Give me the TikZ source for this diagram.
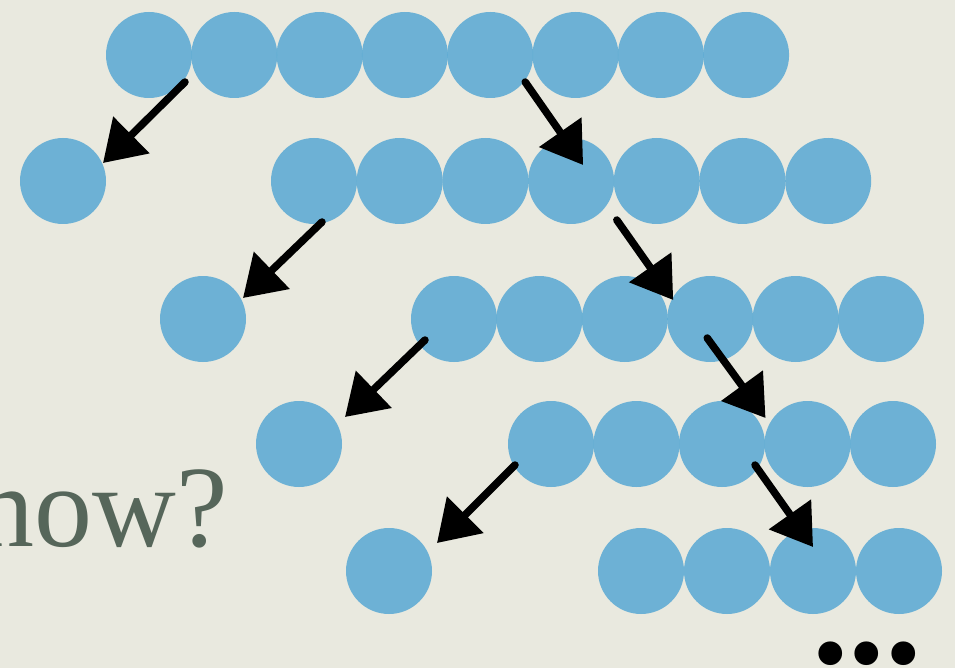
\documentclass[tikz,border=0pt]{standalone}
\usepackage{fontspec}
\setmainfont{Liberation Serif}
\usetikzlibrary{arrows.meta,calc}
\definecolor{bgcol}{RGB}{233,233,223}
\definecolor{ballblue}{RGB}{96,172,212}
\definecolor{textcol}{RGB}{86,102,90}
\tikzset{
  ball/.style={circle, minimum size=86pt, inner sep=0pt, fill=ballblue, fill opacity=0.9, draw=none},
  sketch/.style={line width=7.5pt, line cap=round, draw=black, -{Triangle[length=40pt,width=50pt]}},
}
\begin{document}
\begin{tikzpicture}[x=1pt,y=-1pt]
\useasboundingbox (0,0) rectangle (955,668);
\clip (0,0) rectangle (955,668);
\fill[bgcol] (0,0) rectangle (955,668);
% row 1
\foreach \i in {0,...,7} \node[ball] (r1c\i) at ({149+85.3*\i},55) {};
% row 2
\node[ball] (s2) at (63,181) {};
\foreach \i in {0,...,6} \node[ball] (r2c\i) at ({314+85.7*\i},181) {};
% row 3
\node[ball] (s3) at (203,319) {};
\foreach \i in {0,...,5} \node[ball] (r3c\i) at ({454+85.4*\i},319) {};
% row 4
\node[ball] (s4) at (299,444) {};
\foreach \i in {0,...,4} \node[ball] (r4c\i) at ({551+85.5*\i},444) {};
% row 5
\node[ball] (s5) at (389,571) {};
\foreach \i in {0,...,3} \node[ball] (r5c\i) at ({641+86*\i},571) {};
% arrows
\draw[sketch] ($(r1c0)+(36,27)$) -- ($(s2)+(40,-18)$);
\draw[sketch] ($(r1c4)+(35,27)$) -- ($(r2c3)+(12,-16)$);
\draw[sketch] ($(r2c0)+(8,41)$) -- ($(s3)+(40,-21)$);
\draw[sketch] ($(r2c4)+(-40,39)$) -- ($(r3c3)+(-37,-19)$);
\draw[sketch] ($(r3c0)+(-29,21)$) -- ($(s4)+(46,-27)$);
\draw[sketch] ($(r3c3)+(-3,19)$) -- ($(r4c3)+(-42,-26)$);
\draw[sketch] ($(r4c0)+(-36,21)$) -- ($(s5)+(48,-28)$);
\draw[sketch] ($(r4c2)+(33,21)$) -- ($(r5c2)+(0,-24)$);
% text
\node[anchor=base east, inner sep=0pt, text=textcol, font=\fontsize{116}{120}\selectfont] (how) at (228,546) {now?};
\node[anchor=base west, inner sep=0pt, text=black, font=\fontsize{146}{150}\bfseries\selectfont] (dots) at (812,663) {...};
\end{tikzpicture}
\end{document}
